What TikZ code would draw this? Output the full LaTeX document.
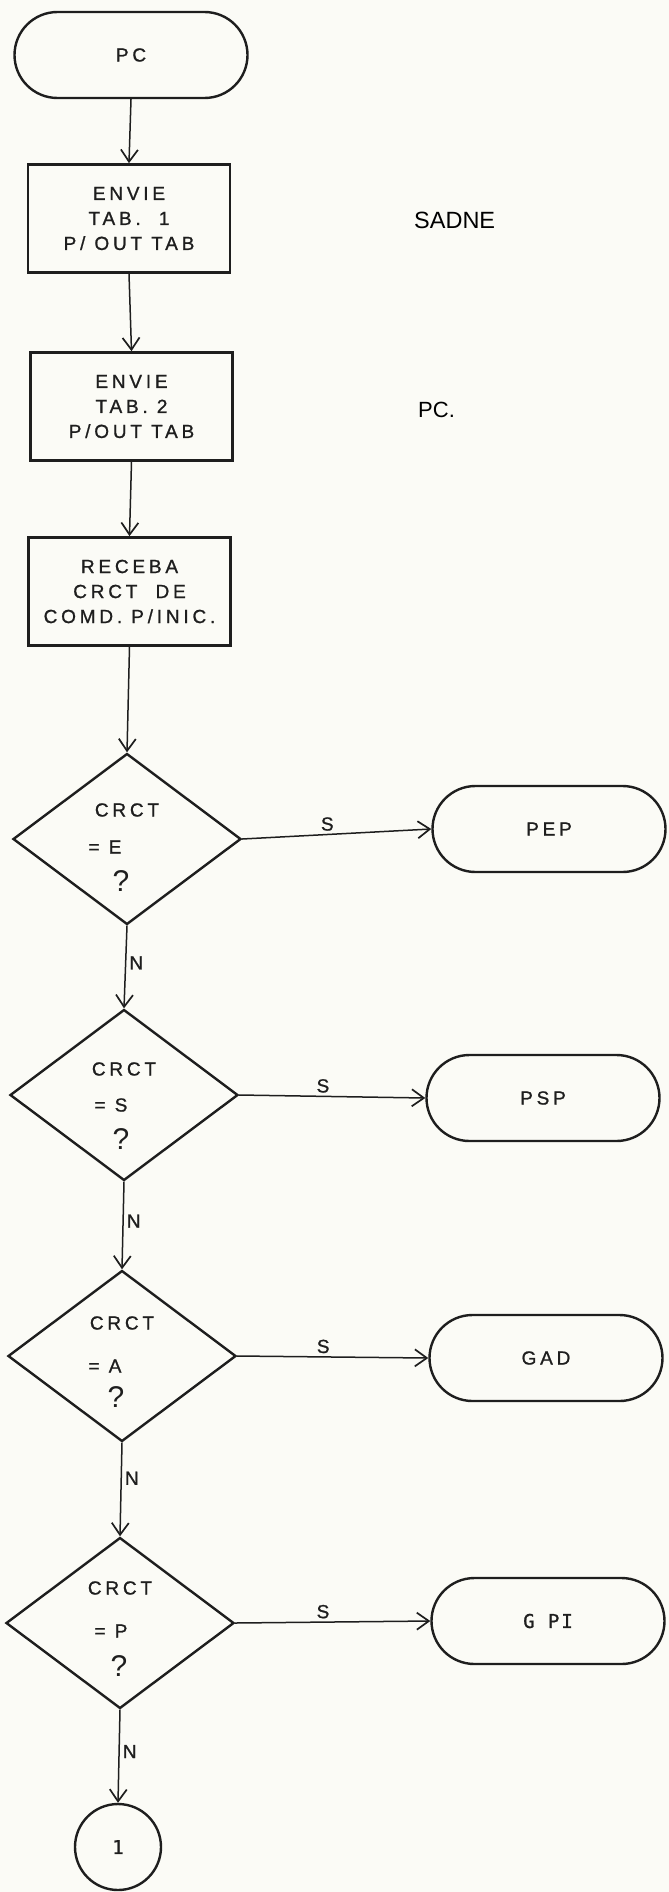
\documentclass[tikz,border=0pt]{standalone}
\usepackage{fontspec}
\setmainfont{Liberation Sans}
\newfontfamily\lettering[LetterSpace=20,FakeBold=1]{Liberation Sans}
\newfontfamily\headfont{Liberation Sans}
\newfontfamily\typed[LetterSpace=10,FakeBold=1]{DejaVu Sans Mono}
\usetikzlibrary{shapes.geometric,arrows.meta}

\definecolor{paper}{RGB}{251,251,246}
\definecolor{ink}{RGB}{30,30,30}

\tikzset{
  term/.style={draw=ink, line width=2.4pt, rounded corners=43pt,
    minimum width=233pt, minimum height=86pt, inner sep=0pt,
    text=ink, font=\lettering\fontsize{19}{22}\selectfont},
  procbox/.style={draw=ink, line width=2.7pt, minimum width=202pt,
    minimum height=108pt, inner sep=0pt, align=center, text=ink,
    font=\lettering\fontsize{19}{25}\selectfont},
  decision/.style={diamond, draw=ink, line width=2.4pt,
    minimum width=228pt, minimum height=171pt, inner sep=0pt},
  connector/.style={circle, draw=ink, line width=2.4pt,
    minimum size=86pt, inner sep=0pt, text=ink,
    font=\typed\fontsize{19}{22}\selectfont},
  flow/.style={draw=ink, line width=1.5pt,
    -{Straight Barb[length=12pt,width=17pt,line width=1.7pt]}},
  lab/.style={text=ink, inner sep=3pt,
    font=\lettering\fontsize{19}{22}\selectfont},
  qmark/.style={text=ink, inner sep=0pt,
    font=\headfont\fontsize{30}{32}\selectfont},
  side/.style={anchor=west, text=black, inner sep=0pt}
}

\begin{document}
\begin{tikzpicture}[x=1pt,y=-1pt]
  \useasboundingbox (0,0) rectangle (669,1892);
  \fill[paper] (0,0) rectangle (669,1892);

  % main column
  \node[term] (pc) at (131,55) {PC};
  \node[procbox] (b1) at (129,218.5) {ENVIE\\TAB.\ \ 1\\P/ OUT TAB};
  \node[procbox] (b2) at (131.5,406.5) {ENVIE\\TAB. 2\\P/OUT TAB};
  \node[procbox] (b3) at (129.5,591.5) {RECEBA\\CRCT\ \ DE\\COMD. P/INIC.};

  \node[decision] (d1) at (127,839) {};
  \node[decision] (d2) at (124,1095) {};
  \node[decision] (d3) at (122,1356) {};
  \node[decision] (d4) at (120,1623) {};
  \node[connector] (c1) at (118,1847) {1};

  % text inside the decisions
  \node[lab] (d1a) at ([yshift=29pt]d1.center) {CRCT};
  \node[lab] (d1b) at ([xshift=-22pt,yshift=-8pt]d1.center) {= E};
  \node[qmark] (d1c) at ([xshift=-6pt,yshift=-42pt]d1.center) {?};

  \node[lab] (d2a) at ([yshift=26pt]d2.center) {CRCT};
  \node[lab] (d2b) at ([xshift=-13pt,yshift=-10pt]d2.center) {= S};
  \node[qmark] (d2c) at ([xshift=-3pt,yshift=-44pt]d2.center) {?};

  \node[lab] (d3a) at ([yshift=33pt]d3.center) {CRCT};
  \node[lab] (d3b) at ([xshift=-17pt,yshift=-10pt]d3.center) {= A};
  \node[qmark] (d3c) at ([xshift=-6pt,yshift=-41pt]d3.center) {?};

  \node[lab] (d4a) at ([yshift=35pt]d4.center) {CRCT};
  \node[lab] (d4b) at ([xshift=-9pt,yshift=-8pt]d4.center) {= P};
  \node[qmark] (d4c) at ([xshift=-1pt,yshift=-43pt]d4.center) {?};

  % right column
  \node[term] (pep) at (549,829) {PEP};
  \node[term] (psp) at (543,1098) {PSP};
  \node[term] (gad) at (546,1358) {GAD};
  \node[term] (gpi) at (548,1621) {\typed G PI};

  % side notes
  \node[side, font=\headfont\fontsize{23.5}{26}\selectfont] (sadne) at (414,220) {SADNE};
  \node[side, font=\headfont\fontsize{22}{24}\selectfont] (pcdot) at (418,410) {PC.};

  % flow
  \draw[flow] (pc.south) -- (b1.north);
  \draw[flow] (b1.south) -- (b2.north);
  \draw[flow] (b2.south) -- (b3.north);
  \draw[flow] (b3.south) -- (d1.north);
  \draw[flow] (d1.south) -- node[lab, right, pos=0.45] {N} (d2.north);
  \draw[flow] (d2.south) -- node[lab, right, pos=0.45] {N} (d3.north);
  \draw[flow] (d3.south) -- node[lab, right, pos=0.38] {N} (d4.north);
  \draw[flow] (d4.south) -- node[lab, right, pos=0.45] {N} (c1.north);

  \draw[flow] (d1.east) -- node[lab, above, pos=0.45] {S} (pep.west);
  \draw[flow] (d2.east) -- node[lab, above, pos=0.45] {S} (psp.west);
  \draw[flow] (d3.east) -- node[lab, above, pos=0.45] {S} (gad.west);
  \draw[flow] (d4.east) -- node[lab, above, pos=0.45] {S} (gpi.west);
\end{tikzpicture}
\end{document}
